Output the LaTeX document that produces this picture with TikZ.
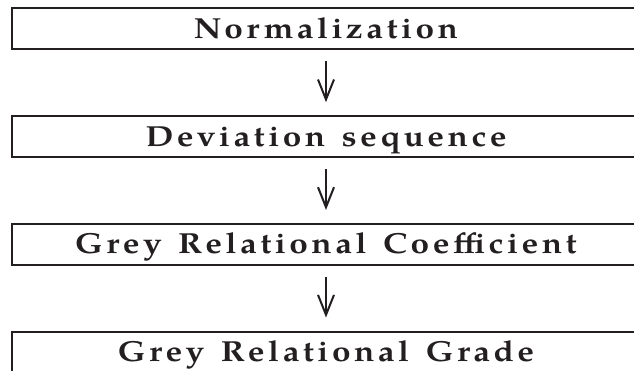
\documentclass[tikz,border=0pt]{standalone}
\usepackage{fontspec}
\setmainfont{TeX Gyre Pagella}[FakeStretch=1.15,LetterSpace=12,WordSpace=1.4]
\usetikzlibrary{positioning,arrows.meta}
\definecolor{ink}{RGB}{35,31,32}

\begin{document}
\begin{tikzpicture}[x=1pt,y=1pt,thick,node distance=64.7pt,main node/.style={rectangle,draw=ink,line width=2pt,minimum width=628pt,minimum height=41pt,inner sep=0pt,text height=19pt,text depth=0pt,text=ink,font=\fontsize{29}{33}\selectfont\bfseries}]
        \useasboundingbox (0,0) rectangle (634,371);
        \node[main node] (norm) at (326,342) {Normalization};
        \node[main node] (dev) [below = of norm] {Deviation sequence};
        \node[main node] (coef) [below = of dev] {Grey Relational Coefficient};
        \node[main node] (grade) [below = of coef] {Grey Relational Grade};

        \path[-{Straight Barb[length=20pt,width=16pt,line width=2pt]},draw=ink,line width=1.5pt,shorten <=11pt,shorten >=13pt]
                (norm) edge (dev)
                (dev) edge (coef)
                (coef) edge (grade)
        ;
\end{tikzpicture}
\end{document}
